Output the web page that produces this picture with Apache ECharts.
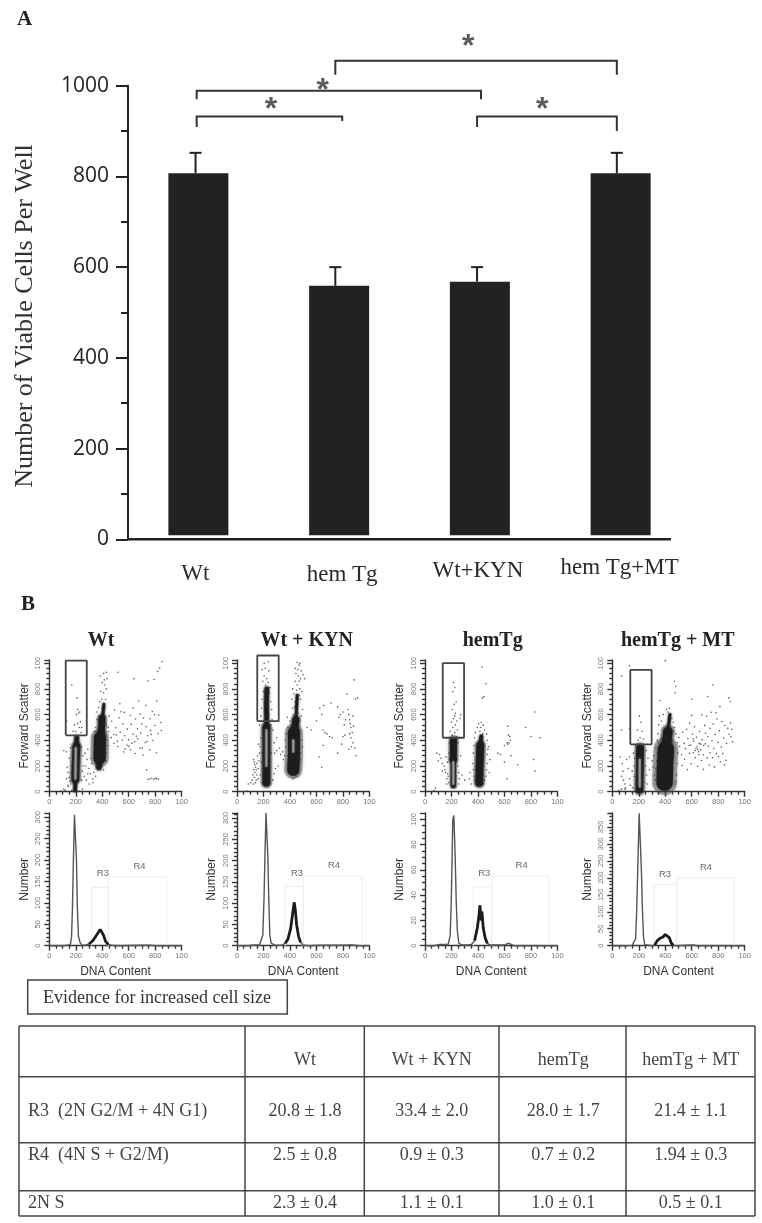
<!DOCTYPE html>
<html><head><meta charset="utf-8">
<style>html,body{margin:0;padding:0;background:#fff}#c{width:762px;height:1223px}</style>
<script src="https://cdn.jsdelivr.net/npm/echarts@6/dist/echarts.min.js"></script>
</head><body><div id="c"></div>
<script>
// ---------- Panel A data ----------
const categories = ['Wt','hem Tg','Wt+KYN','hem Tg+MT'];
const barTops = [807,559,568,807];
const barFloor = [9,9,9,9];
const errorX = [-0.02,0.973,1.98,2.973];
const errorTops = [852,600,600,852];
const bracketFrom = [0.973,-0.012,-0.012,1.98];
const bracketTo = [2.973,2.008,1.022,2.973];
const bracketLevel = [1055,989,932,932];
const bracketDropL = [31,19,23,23];
const bracketDropR = [31,19,10,32];
const starX = [0.516,0.883,1.918,2.443];
const starY = [957,999,1096,958];
const baselineEnds = [[-0.5,0],[3.358,0]];

// ---------- Panel B: titles ----------
const panelTitles = ['Wt','Wt + KYN','hemTg','hemTg + MT'];

// ---------- Forward scatter: sparse events (DNA, FSC) ----------
const scatterWt = [[433,512],[447,468],[452,590],[468,421],[471,548],[489,377],[492,635],[503,498],[506,441],[518,352],[527,575],[533,684],[536,463],[552,402],[556,528],[563,309],[566,617],[571,436],[587,361],[589,487],[598,405],[611,593],[613,326],[619,524],[633,447],[634,652],[646,388],[649,297],[651,566],[666,489],[668,412],[674,706],[683,338],[686,603],[691,456],[699,528],[709,286],[712,573],[724,382],[729,671],[731,506],[744,436],[747,862],[758,327],[761,568],[764,477],[778,624],[783,398],[791,873],[797,515],[809,303],[811,705],[822,452],[826,595],[834,963],[843,538],[846,476],[819,936],[851,1012],[602,355],[625,378],[572,331],[658,432],[702,341],[738,392],[770,445],[795,600],[541,622],[487,445],[515,392],
[745,95],[760,100],[775,105],[790,95],[800,105],[810,100],[825,100],[735,170],
[380,700],[400,650],[420,660],[395,720],[410,770],[430,800],[385,900],[410,920],[430,930],[400,850],[420,830],[435,880],[520,930],[640,880],[372,655],[425,720],[388,780],[415,870],
[170,830],[210,730],[215,640],[220,610],[205,600],[230,620],[190,520],[215,530],[225,500],[200,470],[235,545],[240,460],[130,550],[180,470],[245,500],
[270,300],[285,250],[255,200],[300,180],[265,120],[310,140],[280,90],[330,100],[350,120],[250,160],[240,350],[290,330],[320,220],[300,60],[330,70],[150,110],[130,100],[165,150],[140,50],[160,60],[110,20],[170,10],[120,10],[90,5],[190,5],[230,5],[250,20],[130,310],[160,340],[135,190],[170,200],[150,260],[110,320],[140,150],[175,90],[255,280],[275,200],[290,140],[245,90],[155,80],[145,40],[315,260],[335,150],
[335,300],[340,250],[345,350],[430,300],[435,400],[430,240],[340,420],[345,470],[350,220],[355,190],[440,360],[445,500],[350,500],[360,560],[430,530],[420,590],[360,620],[375,180],[410,170]];
const scatterKyn = [[625,650],[640,600],[655,670],[650,480],[665,460],[680,450],[700,430],[720,420],[710,690],[760,660],[770,580],[780,600],[800,620],[810,520],[820,560],[830,760],[840,640],[845,600],[850,560],[860,500],[862,420],[855,530],[870,460],[875,590],[880,510],[885,870],[895,720],[900,280],[890,340],[875,380],[865,350],[760,300],[620,270],[640,190],[910,730],[800,430],[815,440],[845,330],[850,450],[790,370],[530,500],[560,480],[600,550],[650,360],
[430,560],[445,600],[450,640],[465,610],[420,650],[460,680],[440,700],[480,720],[470,750],[430,760],[450,790],[475,800],[455,830],[440,860],[420,800],[470,860],[480,880],[445,920],[460,950],[470,985],[475,1000],[455,1005],[485,940],[500,910],[510,880],[415,720],[440,960],[490,780],[465,900],[435,660],[425,600],[495,640],[485,590],
[205,1000],[215,960],[235,1010],[190,950],[205,900],[225,880],[240,940],[195,860],[215,830],[235,850],[250,810],[200,780],[245,770],[190,720],[255,700],[185,650],[262,640],[180,590],[265,560],[170,520],[255,520],[270,480],
[125,250],[130,230],[135,210],[140,190],[145,170],[125,170],[135,150],[150,130],[120,130],[130,110],[115,90],[145,90],[105,70],[125,60],[160,100],[165,240],[170,300],[155,280],[175,350],[180,420],[190,70],[175,130],[160,180],[150,220],[190,180],[185,230],[140,70],[85,60],[75,5],
[285,300],[300,320],[320,340],[330,290],[345,310],[360,280],[350,250],[290,180],[310,200],[280,140],[270,90],[300,420],[280,380],[260,300],[165,370],[190,300],
[370,350],[375,450],[380,280],[385,220],[390,170],[395,140],[470,200],[480,300],[490,400],[475,480],[480,250],[465,150],[455,120],[435,110],[420,100],[495,350],[365,400],[385,500],[400,550],[380,580]];
const scatterHem = [[215,850],[225,810],[210,780],[235,700],[220,680],[205,640],[230,610],[225,590],[215,570],[240,550],[200,540],[230,520],[210,500],[245,480],[190,470],[225,460],[205,440],[240,430],[195,420],[255,415],[250,380],[185,380],
[90,300],[110,290],[120,260],[100,240],[130,220],[145,200],[150,170],[155,150],[130,160],[170,140],[175,120],[165,100],[180,70],[170,230],[160,270],[180,300],[185,250],[165,60],[80,30],[70,10],[250,200],[255,150],[260,100],[255,60],[270,280],[280,130],[300,90],[270,600],[265,570],
[430,970],[460,840],[445,740],[435,730],[425,540],[440,520],[405,530],[395,500],[450,480],[380,460],[465,450],[375,420],[470,400],[370,360],[475,330],[365,300],[470,290],[360,220],[470,220],[365,170],[465,170],[370,120],[460,120],[375,90],[450,90],[385,70],[440,65],[340,150],[335,100],[350,60],[490,250],[485,150],[480,350],[420,500],[415,470],[435,450],
[625,510],[630,440],[640,430],[645,400],[635,380],[625,370],[620,380],[600,360],[550,300],[570,290],[620,100],[600,230],[650,280],[760,500],[800,430],[830,620],[870,420],[820,250],[830,160],[700,210]];
const scatterMt = [[470,860],[480,820],[475,770],[600,720],[720,740],[760,830],[880,730],[890,700],[360,710],[400,1020],[130,980],[70,900],[70,480],[130,490],
[503,421],[508,352],[524,287],[527,204],[531,463],[543,376],[546,253],[552,335],[562,486],[567,172],[571,414],[583,298],[584,533],[593,364],[596,217],[599,594],[607,447],[612,303],[616,393],[622,505],[627,264],[632,336],[636,424],[641,352],[644,198],[652,311],[656,376],[659,468],[667,327],[673,243],[676,598],[679,405],[687,287],[689,174],[698,516],[702,372],[704,455],[713,587],[717,263],[722,428],[726,356],[733,208],[737,494],[739,303],[746,618],[753,397],[757,264],[762,527],[767,336],[772,193],[777,446],[783,615],[786,296],[791,566],[797,384],[802,274],[808,475],[813,662],[816,233],[823,347],[827,546],[834,298],[842,416],[849,515],[863,376],[872,493],[881,447],[893,536],[902,486],[907,388],[896,428],[847,207],[858,244],[645,330],[655,290],[668,370],[625,320],[690,360],[610,410],[580,360],
[300,240],[310,190],[320,130],[315,280],[330,340],[325,90],[335,60],[340,400],[345,450],[350,520],[355,590],[370,550],[385,600],[410,640],[420,620],[430,650],[440,600],[450,570],[460,540],[470,500],[480,450],[490,380],[495,300],[490,220],[485,130],[480,80],[475,60],[330,180],[335,240],[340,300],[350,380],[460,470],[440,540],
[60,270],[75,220],[80,160],[70,120],[85,90],[95,60],[100,30],[120,180],[110,250],[130,100],[135,50],[150,160],[155,30],[165,120],[170,260],[160,300],[165,200],[130,270],[95,20],[70,20],[50,10],
[205,590],[215,540],[190,480],[225,470],[210,420],[195,400],[235,410],[250,200],[260,130],[265,60],[270,260],[280,170],[255,320],[245,70],[175,360]];

// ---------- Forward scatter: ridges of the dense populations ----------
const ridgesWt = [[[195,10],[197,100]],[[197,100],[200,250],[205,350]],[[205,350],[207,420]],[[375,190],[378,230]],[[380,260],[382,420]],[[392,440],[398,570]],[[405,600],[412,680]]];
const ridgesKyn = [[[222,70],[222,200],[222,500]],[[225,500],[222,680],[225,800]],[[425,170],[430,280],[430,460]],[[432,460],[445,560]],[[445,560],[455,750]]];
const ridgesHem = [[[214,50],[214,250]],[[214,250],[215,400]],[[410,70],[412,200],[418,360]],[[418,360],[425,430]]];
const ridgesMt = [[[205,15],[208,200],[210,340]],[[395,70],[398,200],[405,330]],[[405,330],[420,470]],[[420,470],[435,600]]];
const ridgeWidths = [[4,9,5,6,14,8,3],[9,5,14,8,3],[6,8,9,4],[9,19,11,3]];
const coresWt = [[[197,100],[200,340]]];
const coresKyn = [[[222,200],[222,480]],[[425,310],[425,400]]];
const coresHem = [[[214,60],[214,230]]];
const coresMt = [[[207,40],[207,250]]];

// ---------- Gates on the forward scatter: x1,y1,x2,y2 ----------
const gateWt = [124,439,283,1020];
const gateKyn = [153,550,315,1060];
const gateHem = [134,420,295,1000];
const gateMt = [136,369,297,948];

// ---------- DNA histograms ----------
const histWt = [[0,0],[100,0],[140,1],[160,4],[168,20],[175,90],[182,200],[190,306],[197,306],[205,200],[212,90],[220,22],[232,8],[245,2],[270,1],[300,4],[330,12],[360,26],[385,38],[395,38],[410,24],[425,10],[445,3],[470,1],[520,0],[700,1],[760,1],[800,0],[1000,0]];
const histKyn = [[0,0],[60,0],[70,2],[85,0],[110,1],[125,5],[140,2],[170,1],[185,4],[195,25],[204,110],[211,210],[219,312],[226,312],[233,210],[240,110],[248,25],[258,6],[270,2],[290,1],[340,1],[365,6],[385,16],[405,40],[420,75],[432,102],[440,85],[450,50],[465,22],[480,8],[500,2],[530,0],[640,1],[800,1],[870,2],[920,0],[1000,0]];
const histHem = [[0,0],[70,0],[80,1],[110,1],[125,2.5],[140,1],[175,1],[190,8],[197,30],[203,60],[210,100],[218,103],[228,70],[236,35],[244,12],[255,2],[262,2],[280,0.5],[320,0.5],[350,1],[375,4],[395,14],[408,24],[415,32],[425,20],[430,27],[440,14],[455,6],[470,2],[490,0.5],[600,0.5],[630,2],[650,1],[670,0],[1000,0]];
const histMt = [[0,0],[100,0],[150,1],[165,3],[176,20],[184,100],[192,220],[203,390],[212,390],[220,220],[228,100],[236,25],[245,3],[255,1],[300,0],[320,2],[340,15],[360,22],[380,25],[400,33],[415,33],[430,24],[445,8],[460,2],[480,0],[610,2],[640,0],[1000,0]];
const histMax = [310,312,105,391];
const histInterval = [50,50,20,50];
const r3Boxes = [[320,136,446],[362,139,501],[365,46.6,504],[315,180,486]];
const r4Boxes = [[446,161,887],[501,164,942],[504,55,937],[486,200,919]];
const r3Labels = [[405,170],[453,171],[448,57],[398,211]];
const r4Labels = [[681,186],[733,190],[730,63.7],[708,232]];

// ---------- Table ----------
const tableHeader = ['Wt','Wt + KYN','hemTg','hemTg + MT'];
const tableRows = ['R3  (2N G2/M + 4N G1)','R4  (4N S + G2/M)','2N S'];
const tableR3 = ['20.8 ± 1.8','33.4 ± 2.0','28.0 ± 1.7','21.4 ± 1.1'];
const tableR4 = ['2.5 ± 0.8','0.9 ± 0.3','0.7 ± 0.2','1.94 ± 0.3'];
const table2NS = ['2.3 ± 0.4','1.1 ± 0.1','1.0 ± 0.1','0.5 ± 0.1'];
const noteText = 'Evidence for increased cell size';

// ---------- Layout ----------
const SERIF = '"Liberation Serif"', SANS = '"Liberation Sans"';
const panelLeft = [49.3,237,425,612.3];
const panelWidth = 132.4;
const scatTop = 660, scatH = 131.7, histTop = 813, histH = 132.7;
const labelPad = [[7,6,0,0],[8,0,0,6],[4,4,0,0],[1,2,0,0]];

const grids = [{left:128,top:85.7,width:563,height:453.6,outerBoundsMode:'none'}];
const xAxes = [
 {gridIndex:0,type:'category',data:categories.map((c,i)=>({value:c,textStyle:{padding:labelPad[i]}})),
  axisLine:{show:false},axisTick:{show:false},
  axisLabel:{margin:16,fontFamily:SERIF,fontSize:23,color:'#2a2a2a',interval:0}},
 {gridIndex:0,type:'value',min:-0.5,max:3.5,show:false}
];
const yAxes = [{gridIndex:0,type:'value',min:0,max:1000,interval:200,
  name:'Number of Viable Cells Per Well',nameLocation:'middle',nameGap:90,nameMoveOverlap:false,
  nameTextStyle:{fontFamily:SERIF,fontSize:26,color:'#333',padding:[0,7,0,0]},
  axisLine:{show:true,onZero:false,lineStyle:{color:'#222',width:2}},
  axisTick:{show:true,length:12,lineStyle:{color:'#222',width:2}},
  minorTick:{show:true,splitNumber:2,length:7,lineStyle:{color:'#222',width:2}},
  splitLine:{show:false},
  axisLabel:{fontFamily:'"Open Sans"',fontSize:21,color:'#222',margin:19,formatter:v=>String(v)}}];

const series = [
 {type:'bar',xAxisIndex:0,yAxisIndex:0,stack:'b',data:barFloor,barWidth:60,itemStyle:{color:'transparent'},silent:true},
 {type:'bar',xAxisIndex:0,yAxisIndex:0,stack:'b',data:barTops.map((v,i)=>v-barFloor[i]),barWidth:60,itemStyle:{color:'#222'}},
 {type:'line',xAxisIndex:1,yAxisIndex:0,data:baselineEnds,symbol:'none',clip:false,lineStyle:{color:'#222',width:2.5}},
 {type:'custom',xAxisIndex:1,yAxisIndex:0,clip:false,data:errorX.map((x,i)=>[x,errorTops[i],barTops[i]]),
  renderItem(p,api){const t=api.coord([api.value(0),api.value(1)]),b=api.coord([api.value(0),api.value(2)]);
   const st={stroke:'#222',lineWidth:2,fill:null};
   return {type:'group',children:[
    {type:'line',shape:{x1:t[0],y1:t[1],x2:b[0],y2:b[1]},style:st},
    {type:'line',shape:{x1:t[0]-6,y1:t[1],x2:t[0]+6,y2:t[1]},style:st}]};}},
 {type:'custom',xAxisIndex:1,yAxisIndex:0,clip:false,data:bracketFrom.map((x,i)=>[x,bracketTo[i],bracketLevel[i],bracketDropL[i],bracketDropR[i]]),
  renderItem(p,api){const x1=api.value(0),x2=api.value(1),l=api.value(2);
   return {type:'polyline',shape:{points:[api.coord([x1,l-api.value(3)]),api.coord([x1,l]),api.coord([x2,l]),api.coord([x2,l-api.value(4)])]},style:{stroke:'#333',lineWidth:2,fill:null}};}},
 {type:'scatter',xAxisIndex:1,yAxisIndex:0,clip:false,symbolSize:0,data:starX.map((x,i)=>[x,starY[i]]),
  label:{show:true,position:'inside',formatter:'*',fontFamily:SANS,fontSize:32,fontWeight:'bold',color:'#333',offset:[0,5]}}
];

const scatterSets = [scatterWt,scatterKyn,scatterHem,scatterMt];
const ridgeSets = [ridgesWt,ridgesKyn,ridgesHem,ridgesMt];
const coreSets = [coresWt,coresKyn,coresHem,coresMt];
const gateSets = [gateWt,gateKyn,gateHem,gateMt];
const histSets = [histWt,histKyn,histHem,histMt];
const bumpRanges = [[300,445],[365,480],[375,470],[320,460]];

function addAxes(gi,left,top,h,ymax,yint,yname){
 grids.push({left:left,top:top,width:panelWidth,height:h,outerBoundsMode:'none'});
 const lab={fontFamily:SANS,fontSize:7.5,color:'#777'};
 const lineS={color:'#333',width:1.4};
 xAxes.push({gridIndex:gi,type:'value',min:0,max:1000,interval:200,
  name:yname==='Number'?'DNA Content':'',nameLocation:'middle',nameGap:20,nameMoveOverlap:false,
  nameTextStyle:{fontFamily:SANS,fontSize:12,color:'#333'},
  axisLine:{show:true,onZero:false,lineStyle:lineS},axisTick:{show:true,length:5,lineStyle:lineS},
  minorTick:{show:true,splitNumber:4,length:3,lineStyle:lineS},splitLine:{show:false},
  axisLabel:Object.assign({margin:6,formatter:v=>v===1000?'100':String(v)},lab)});
 yAxes.push({gridIndex:gi,type:'value',min:0,max:ymax,interval:yint,
  name:yname,nameLocation:'middle',nameGap:19,nameMoveOverlap:false,
  nameTextStyle:{fontFamily:SANS,fontSize:12,color:'#333'},
  axisLine:{show:true,onZero:false,lineStyle:lineS},axisTick:{show:true,length:5,lineStyle:lineS},
  minorTick:{show:true,splitNumber:yname==='Number'&&yint===20?4:5,length:3,lineStyle:lineS},splitLine:{show:false},
  axisLabel:Object.assign({margin:7,rotate:90,showMaxLabel:ymax%yint===0,formatter:v=>v===1000?'100':String(v)},lab)});
}
const titles=[
 {text:'A',left:12,top:4,textStyle:{fontFamily:SERIF,fontWeight:'bold',fontSize:21,color:'#222'}},
 {text:'B',left:16,top:589,textStyle:{fontFamily:SERIF,fontWeight:'bold',fontSize:21,color:'#222'}}
];
const titleCenters=[96,301.7,487.7,672.7];
panelTitles.forEach((t,i)=>titles.push({text:t,left:titleCenters[i],top:626,textAlign:'center',
  textStyle:{fontFamily:SERIF,fontWeight:'bold',fontSize:20,color:'#222'}}));

for(let i=0;i<4;i++){
 const gs=grids.length; addAxes(gs,panelLeft[i],scatTop,scatH,1025,200,'Forward Scatter');
 const xs=xAxes.length-1, ys=yAxes.length-1;
 ridgeSets[i].forEach((r,k)=>series.push({type:'line',xAxisIndex:xs,yAxisIndex:ys,data:r,symbol:'none',clip:false,silent:true,
   lineStyle:{color:'#333',width:ridgeWidths[i][k]*1.3,opacity:.35,cap:'round',shadowBlur:3,shadowColor:'#555'}}));
 ridgeSets[i].forEach((r,k)=>series.push({type:'line',xAxisIndex:xs,yAxisIndex:ys,data:r,symbol:'none',clip:false,silent:true,
   lineStyle:{color:'#1c1c1c',width:ridgeWidths[i][k]*.85,cap:'round',shadowBlur:2,shadowColor:'#222'}}));
 coreSets[i].forEach(r=>series.push({type:'line',xAxisIndex:xs,yAxisIndex:ys,data:r,symbol:'none',clip:false,silent:true,
   lineStyle:{color:'#999',width:2.2,cap:'round',shadowBlur:3,shadowColor:'#666'}}));
 series.push({type:'scatter',xAxisIndex:xs,yAxisIndex:ys,data:scatterSets[i],symbolSize:1.6,clip:false,silent:true,
   itemStyle:{color:'#333',opacity:.8}});
 const gate=gateSets[i];
 series.push({type:'line',xAxisIndex:xs,yAxisIndex:ys,symbol:'none',clip:false,silent:true,
   data:[[gate[0],gate[1]],[gate[2],gate[1]],[gate[2],gate[3]],[gate[0],gate[3]],[gate[0],gate[1]]],lineStyle:{color:'#444',width:1.8}});

 const gh=grids.length; addAxes(gh,panelLeft[i],histTop,histH,histMax[i],histInterval[i],'Number');
 const xh=xAxes.length-1, yh=yAxes.length-1;
 const r3=r3Boxes[i], r4=r4Boxes[i];
 [r3,r4].forEach(b=>series.push({type:'line',xAxisIndex:xh,yAxisIndex:yh,symbol:'none',clip:false,silent:true,
   data:[[b[0],0],[b[0],b[1]],[b[2],b[1]],[b[2],0]],lineStyle:{color:'#eee',width:1}}));
 series.push({type:'line',xAxisIndex:xh,yAxisIndex:yh,symbol:'none',clip:false,silent:true,data:histSets[i],lineStyle:{color:'#555',width:1.4}});
 const rng=bumpRanges[i];
 series.push({type:'line',xAxisIndex:xh,yAxisIndex:yh,symbol:'none',clip:false,silent:true,
   data:histSets[i].filter(p=>p[0]>=rng[0]&&p[0]<=rng[1]),lineStyle:{color:'#1c1c1c',width:2.8}});
 series.push({type:'scatter',xAxisIndex:xh,yAxisIndex:yh,symbolSize:0,clip:false,silent:true,
   data:[r3Labels[i],r4Labels[i]],
   label:{show:true,position:'inside',formatter:p=>p.dataIndex===0?'R3':'R4',fontFamily:SANS,fontSize:9.5,color:'#444'}});
}

// ---------- Table and note, as page furniture ----------
const tX=[19,245,364.3,499,626,755], tY=[1026,1076.7,1142.7,1190.7,1216];
const g=[];
const ls={stroke:'#444',lineWidth:1.5};
tX.forEach(x=>g.push({type:'line',shape:{x1:x,y1:tY[0],x2:x,y2:tY[4]},style:ls}));
tY.forEach(y=>g.push({type:'line',shape:{x1:tX[0],y1:y,x2:tX[5],y2:y},style:ls}));
const txt=(s,x,y,al)=>g.push({type:'text',x:x,y:y,style:{text:s,fontFamily:SERIF,fontSize:18,fill:'#444',textAlign:al||'center',textVerticalAlign:'middle'}});
const colC=[305,431.7,563.3,690.7], rowY=[1111.7,1155.7,1203];
tableHeader.forEach((s,i)=>txt(s,colC[i],1060.7));
tableRows.forEach((s,i)=>txt(s,28,rowY[i],'left'));
[tableR3,tableR4,table2NS].forEach((row,r)=>row.forEach((s,i)=>txt(s,colC[i],rowY[r])));
g.push({type:'rect',shape:{x:27.7,y:980,width:259.6,height:34},style:{fill:'#fff',stroke:'#444',lineWidth:1.5}});
g.push({type:'text',x:157,y:998,style:{text:noteText,fontFamily:SERIF,fontSize:18,fill:'#333',textAlign:'center',textVerticalAlign:'middle'}});

const chart=echarts.init(document.getElementById('c'),null,{renderer:'canvas',width:762,height:1223});
chart.setOption({animation:false,backgroundColor:'#fff',title:titles,grid:grids,xAxis:xAxes,yAxis:yAxes,series:series,graphic:{elements:g}});
</script></body></html>
